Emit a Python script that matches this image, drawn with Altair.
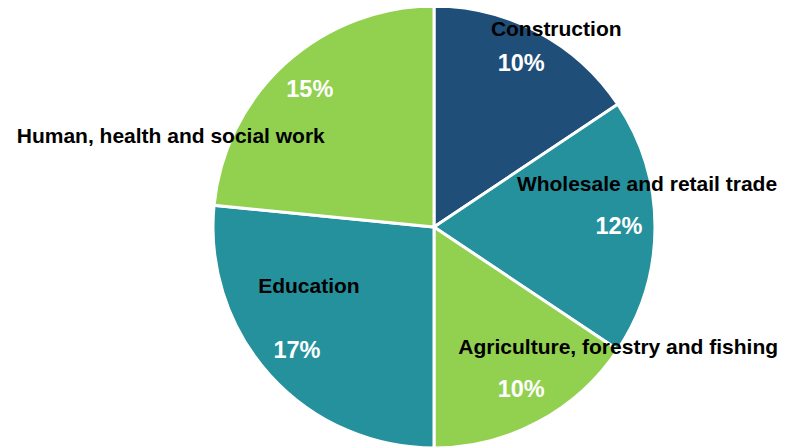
import altair as alt
import pandas as pd

categories = ["Construction", "Wholesale and retail trade", "Agriculture, forestry and fishing",
              "Education", "Human, health and social work"]
values = [10, 12, 10, 17, 15]
colors = ["#1F4E79", "#25919D", "#92D050", "#25919D", "#92D050"]

df = pd.DataFrame({"category": categories, "value": values, "idx": list(range(len(categories)))})

CX, CY = 426, 219
R = 221
PCT_R = 185
# name-label offsets (px) relative to the percentage label position
LABEL_OFFSETS = {
    "Construction": (35, -34),
    "Wholesale and retail trade": (28, -42),
    "Agriculture, forestry and fishing": (97, -42),
    "Education": (12, -64),
    "Human, health and social work": (-139, 47),
}

base = alt.Chart(df).encode(
    theta=alt.Theta("value:Q", stack=True),
    order=alt.Order("idx:Q"),
    x=alt.value(CX),
    y=alt.value(CY),
)

pie = base.mark_arc(radius=R, stroke="white", strokeWidth=3).encode(
    color=alt.Color("category:N", scale=alt.Scale(domain=categories, range=colors), legend=None)
)

pct = base.transform_calculate(label="datum.value + '%'").mark_text(
    radius=PCT_R, font="Liberation Sans", fontWeight="bold", fontSize=23.5,
    color="white", align="center", baseline="middle"
).encode(text="label:N")

layers = [pie, pct]
for cat, (dx, dy) in LABEL_OFFSETS.items():
    layers.append(
        base.mark_text(
            radius=PCT_R, dx=dx, dy=dy, font="Liberation Sans", fontWeight="bold",
            fontSize=21, color="black", align="center", baseline="middle"
        ).encode(
            text=alt.condition(alt.datum.category == cat, "category:N", alt.value(""))
        )
    )

chart = alt.layer(*layers).properties(
    width=773, height=440, padding=0, autosize=alt.AutoSizeParams(type="none")
).configure_view(stroke=None)

chart.save("out.html", embed_options={"renderer": "svg", "actions": False})
